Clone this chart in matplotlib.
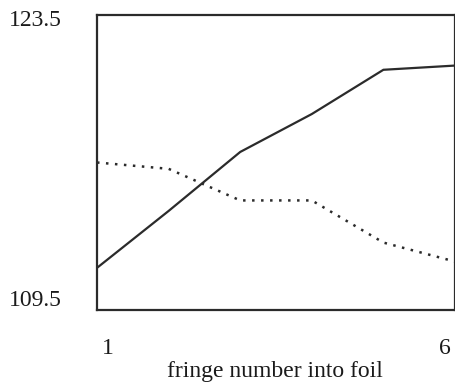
import matplotlib.pyplot as plt

# values
fringe = [1, 2, 3, 4, 5, 6]
solid_vals = [111.5, 114.2, 117.0, 118.8, 120.9, 121.1]
dotted_vals = [116.5, 116.2, 114.7, 114.7, 112.7, 111.8]
y_labels = ['123.5', '109.5']
x_labels = ['1', '6']

plt.rcParams['font.family'] = ['Liberation Serif', 'DejaVu Serif']

fig = plt.figure(figsize=(4.56, 3.85), dpi=100)
ax = fig.add_axes([97 / 456, 1 - 310 / 385, 358 / 456, 295 / 385])

ax.plot(fringe, solid_vals, color='#2b2b2b', lw=1.6, solid_joinstyle='miter')
ax.plot(fringe, dotted_vals, color='#2b2b2b', lw=1.8, linestyle=(0, (1, 2.6)))

ax.set_xlim(1, 6)
ax.set_ylim(109.5, 123.5)
ax.set_xticks([])
ax.set_yticks([])
for sp in ax.spines.values():
    sp.set_linewidth(1.6)
    sp.set_color('#2b2b2b')

# axis labels placed like the reference
fs = 17
fig.text(35 / 456, 1 - 21 / 385, y_labels[0], fontsize=fs, ha='center', va='center', color='#1a1a1a')
fig.text(35 / 456, 1 - 300 / 385, y_labels[1], fontsize=fs, ha='center', va='center', color='#1a1a1a')
fig.text(108 / 456, 1 - 349 / 385, x_labels[0], fontsize=fs, ha='center', va='center', color='#1a1a1a')
fig.text(445 / 456, 1 - 349 / 385, x_labels[1], fontsize=fs, ha='center', va='center', color='#1a1a1a')
fig.text(275 / 456, 1 - 372 / 385, 'fringe number into foil', fontsize=fs, ha='center', va='center', color='#1a1a1a')

fig.savefig('out.png', dpi=100)
